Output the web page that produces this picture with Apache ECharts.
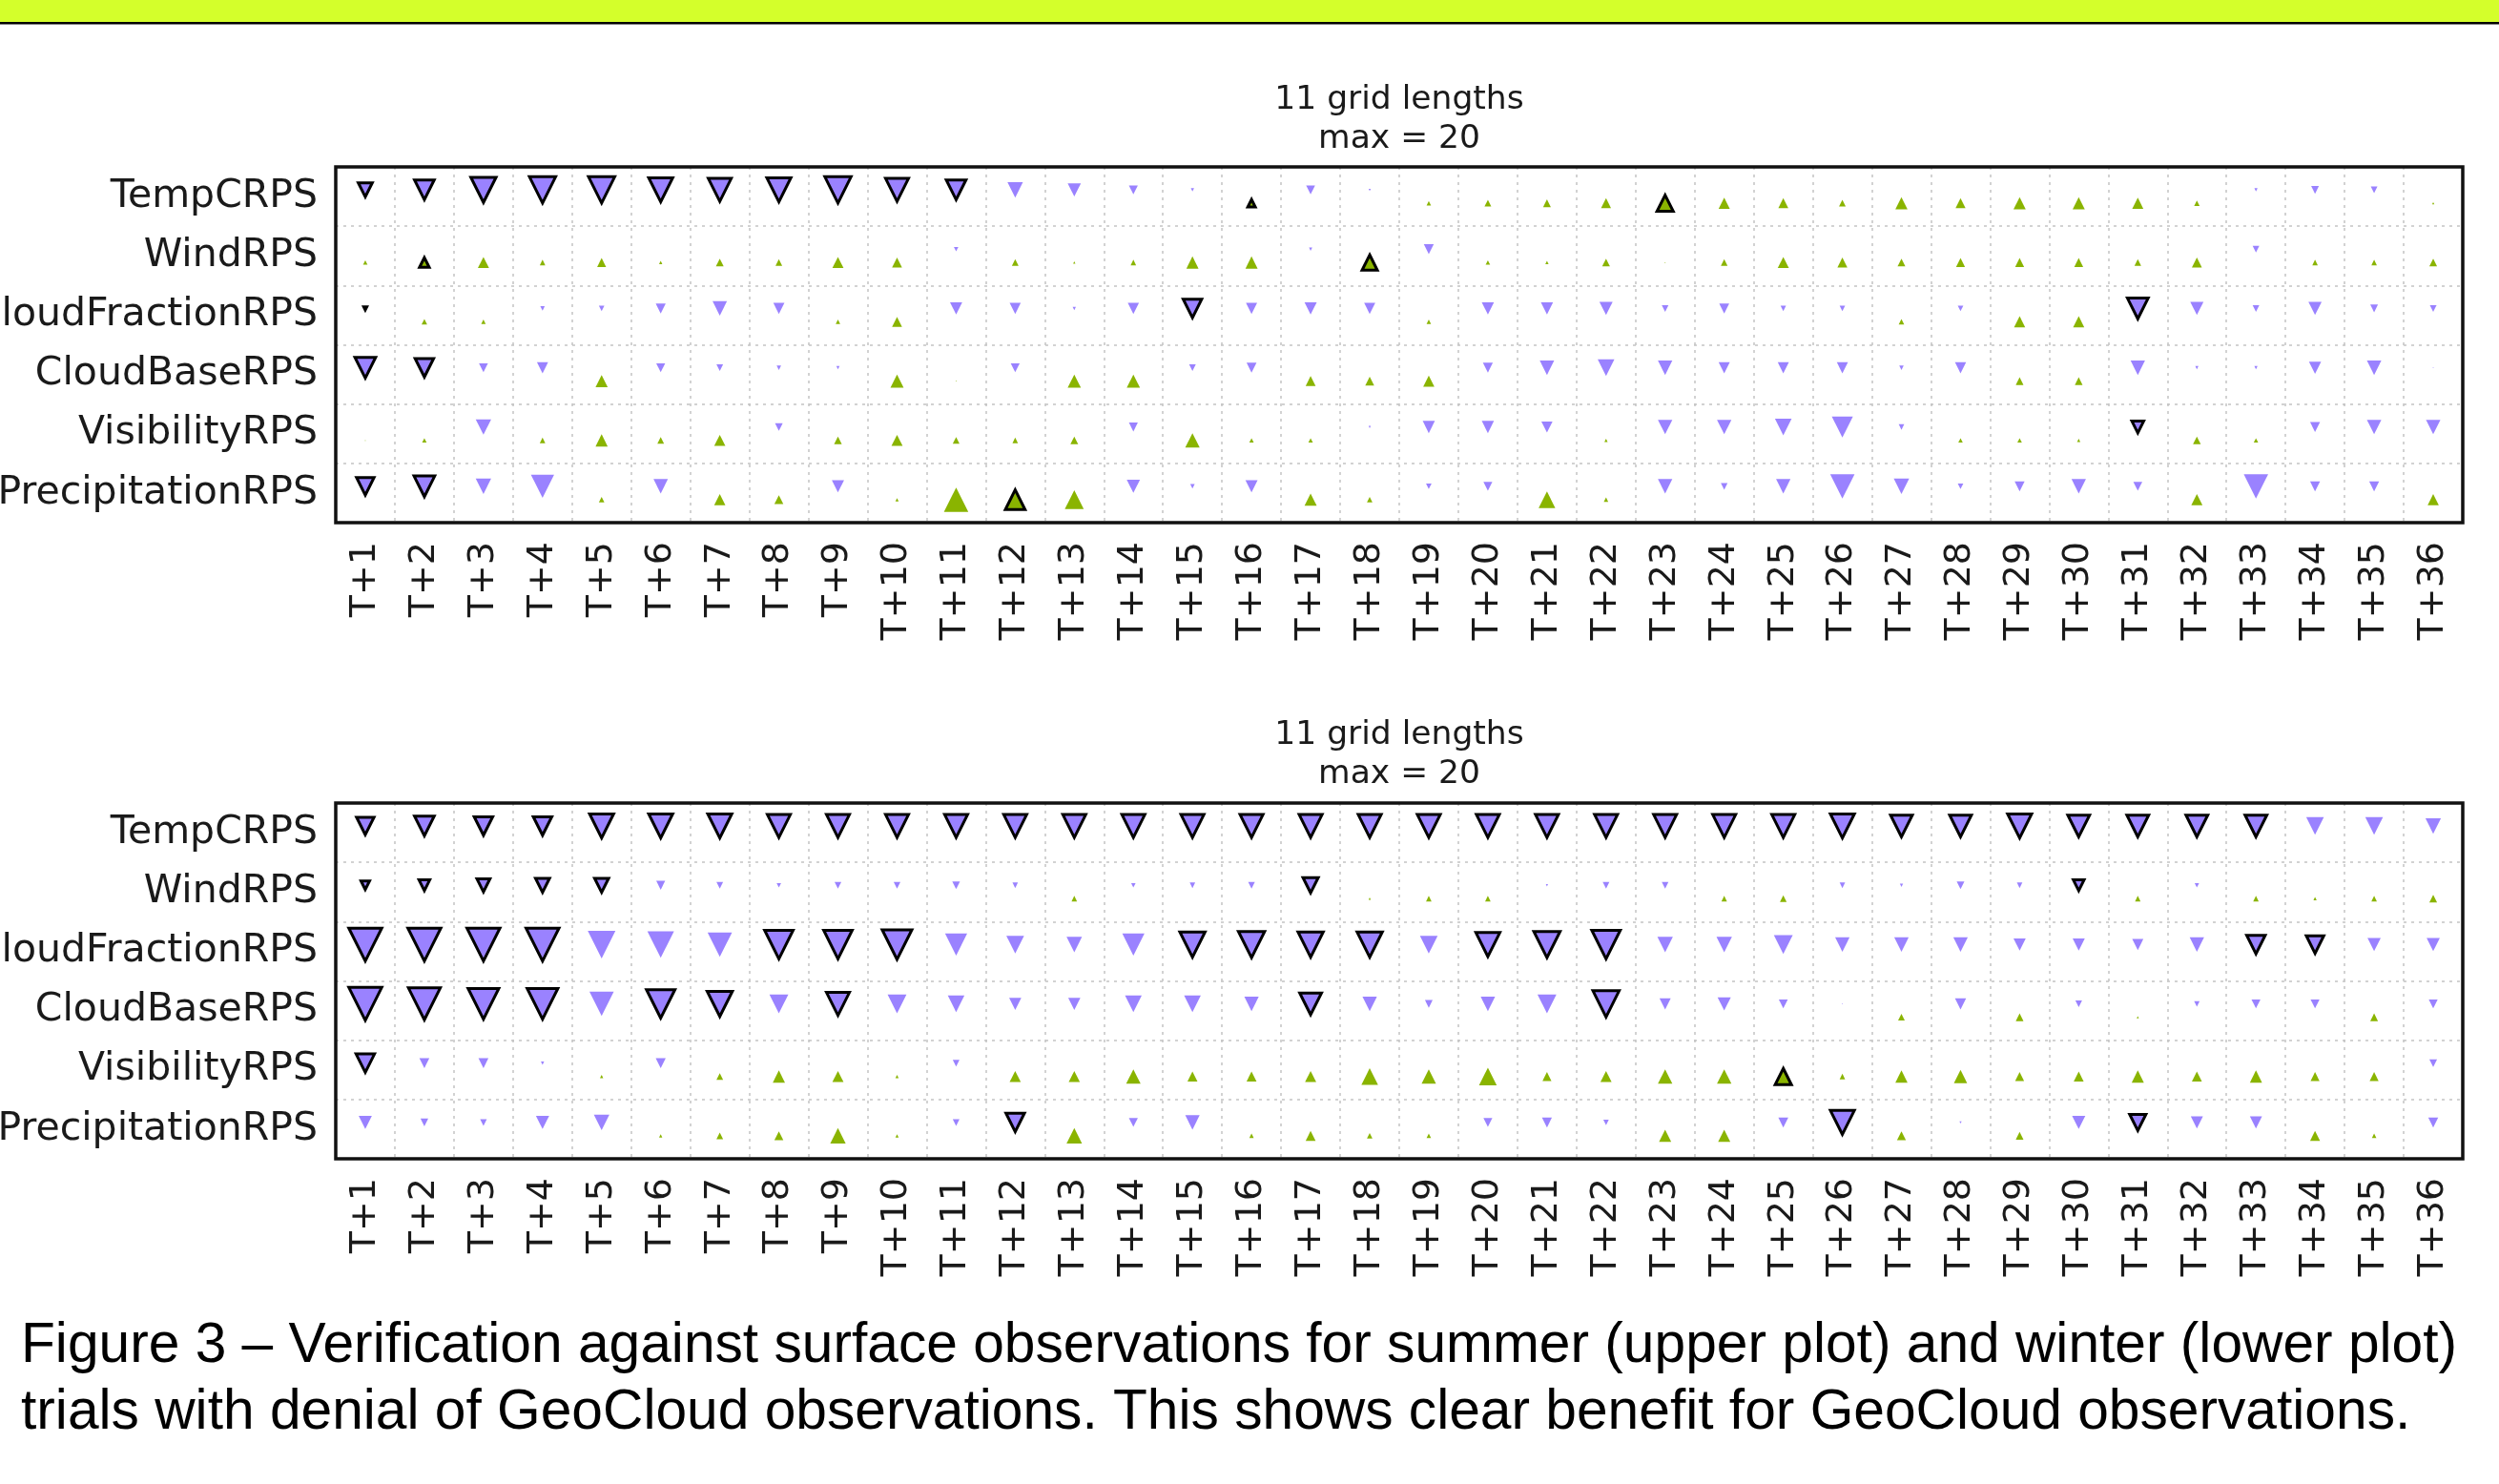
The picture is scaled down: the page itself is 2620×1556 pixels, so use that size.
<!DOCTYPE html>
<html><head><meta charset="utf-8">
<script src="https://cdn.jsdelivr.net/npm/echarts@6/dist/echarts.min.js"></script>
<style>html,body{margin:0;padding:0;background:#fff}#c{width:2620px;height:1556px}</style>
</head><body><div id="c"></div>
<script>
const leadTimes = ['T+1','T+2','T+3','T+4','T+5','T+6','T+7','T+8','T+9','T+10','T+11','T+12','T+13','T+14','T+15','T+16','T+17','T+18','T+19','T+20','T+21','T+22','T+23','T+24','T+25','T+26','T+27','T+28','T+29','T+30','T+31','T+32','T+33','T+34','T+35','T+36'];
const scores = ['TempCRPS','WindRPS','CloudFractionRPS','CloudBaseRPS','VisibilityRPS','PrecipitationRPS'];
const plotTitle = ['11 grid lengths', 'max = 20'];
const caption = ['Figure 3 \u2013 Verification against surface observations for summer (upper plot) and winter (lower plot)',
                 'trials with denial of GeoCloud observations. This shows clear benefit for GeoCloud observations.'];

// Summer (upper plot): % change, negative = purple (down), positive = green (up)
const summerTemp = [-9.0,-12.3,-15.5,-16.1,-16.1,-14.8,-14.2,-14.8,-16.1,-14.2,-12.3,-9.0,-7.7,-5.2,-1.9,5.2,-5.2,-1.3,2.6,3.9,4.5,5.8,10.3,6.5,5.8,3.9,7.1,5.8,7.1,7.1,6.5,3.2,-1.9,-4.5,-3.9,1.3];
const summerWind = [2.6,6.5,6.5,3.2,5.2,1.9,4.5,3.9,6.5,5.8,-2.6,3.9,1.3,3.2,7.1,7.1,-1.9,9.7,-5.8,2.6,1.9,4.5,0.6,3.9,6.5,5.8,4.5,5.2,5.2,5.2,3.9,5.8,-3.9,3.2,3.2,4.5];
const summerCloudFrac = [-2.6,3.2,2.6,-2.6,-3.2,-5.8,-8.4,-6.5,2.6,5.8,-7.1,-6.5,-1.9,-6.5,-11.6,-6.5,-7.1,-6.5,2.6,-7.1,-7.1,-7.7,-3.9,-5.8,-3.2,-3.2,3.2,-3.2,6.5,6.5,-12.9,-7.7,-3.9,-7.7,-4.5,-3.9];
const summerCloudBase = [-12.9,-11.6,-5.2,-6.5,7.1,-5.2,-3.9,-2.6,-1.9,7.7,0.6,-5.2,7.7,7.7,-3.9,-5.8,5.8,5.2,6.5,-5.8,-8.4,-9.7,-8.4,-6.5,-6.5,-6.5,-2.6,-6.5,4.5,4.5,-8.4,-1.9,-1.9,-7.1,-8.4,-0.6];
const summerVis = [0.6,2.6,-9.0,3.2,7.1,3.9,6.5,-4.5,4.5,6.5,3.9,3.2,4.5,-5.2,8.4,2.6,2.6,-1.3,-7.1,-7.1,-6.5,1.9,-8.4,-8.4,-9.7,-12.3,-3.2,2.6,2.6,1.9,-7.7,4.5,2.6,-5.8,-8.4,-8.4];
const summerPrecip = [-11.0,-12.9,-9.0,-13.5,3.2,-8.4,6.5,5.2,-7.1,1.9,14.2,12.3,11.0,-7.7,-2.6,-7.1,7.1,3.2,-3.2,-5.2,9.7,2.6,-8.4,-3.9,-8.4,-14.2,-9.0,-3.2,-5.8,-8.4,-5.2,6.5,-14.2,-5.8,-5.8,6.5];
// lead times (T+n) with statistically significant change (black outline)
const summerTempSig = [1,2,3,4,5,6,7,8,9,10,11,16,23];
const summerWindSig = [2,18];
const summerCloudFracSig = [1,15,31];
const summerCloudBaseSig = [1,2];
const summerVisSig = [31];
const summerPrecipSig = [1,2,12];

// Winter (lower plot)
const winterTemp = [-11.0,-12.3,-11.6,-11.6,-14.8,-14.8,-14.8,-14.2,-14.2,-14.2,-14.2,-14.2,-14.2,-14.2,-14.2,-14.2,-14.2,-14.2,-14.2,-14.2,-14.2,-14.2,-14.2,-14.2,-14.2,-14.8,-13.5,-13.5,-14.8,-13.5,-13.5,-13.5,-13.5,-10.3,-10.3,-9.0];
const winterWind = [-5.8,-7.1,-8.4,-9.0,-9.0,-5.2,-3.9,-2.6,-3.9,-3.9,-4.5,-3.2,3.2,-2.6,-3.2,-3.9,-9.7,1.3,3.2,3.2,-1.3,-3.9,-3.9,3.2,3.9,-3.2,-1.9,-4.5,-3.2,-7.1,3.2,-2.6,3.2,1.9,3.2,4.5];
const winterCloudFrac = [-20.0,-20.0,-20.0,-20.0,-16.1,-15.5,-14.2,-17.4,-17.4,-18.1,-12.9,-10.3,-9.0,-12.9,-15.5,-16.1,-15.5,-15.5,-10.3,-14.8,-16.1,-17.4,-9.0,-9.0,-11.0,-8.4,-8.4,-8.4,-7.1,-7.1,-6.5,-8.4,-11.6,-11.0,-7.7,-7.7];
const winterCloudBase = [-20.0,-19.4,-18.7,-18.7,-14.2,-17.4,-15.5,-11.0,-14.2,-11.0,-9.7,-7.1,-7.1,-9.7,-9.7,-8.4,-13.5,-8.4,-4.5,-8.4,-11.0,-16.1,-6.5,-7.7,-5.2,-0.6,3.9,-6.5,4.5,-3.9,1.3,-3.2,-5.2,-5.2,4.5,-5.2];
const winterVis = [-11.6,-5.8,-5.8,-1.9,1.9,-5.8,3.9,7.1,6.5,1.9,-3.9,6.5,6.5,8.4,5.8,5.8,6.5,9.7,8.4,10.3,5.2,6.5,8.4,8.4,10.3,3.2,7.1,7.7,5.2,5.8,7.1,5.8,7.1,5.2,5.2,-4.5];
const winterPrecip = [-7.7,-4.5,-3.9,-7.7,-9.0,1.9,3.9,5.2,9.0,1.9,-3.9,-11.6,9.0,-5.2,-8.4,2.6,5.8,3.2,2.6,-5.2,-5.8,-3.2,7.1,7.1,-5.8,-14.8,5.2,-1.3,4.5,-7.7,-10.3,-7.1,-7.1,5.8,2.6,-5.8];
const winterTempSig = [1,2,3,4,5,6,7,8,9,10,11,12,13,14,15,16,17,18,19,20,21,22,23,24,25,26,27,28,29,30,31,32,33];
const winterWindSig = [1,2,3,4,5,17,30];
const winterCloudFracSig = [1,2,3,4,8,9,10,15,16,17,18,20,21,22,33,34];
const winterCloudBaseSig = [1,2,3,4,6,7,9,17,22];
const winterVisSig = [1,25];
const winterPrecipSig = [12,26,31];

const PURPLE = '#9a82ff', GREEN = '#8ab400';
const SIZE_PER_UNIT = 1.8, BORDER = 3, OFFSET = 7;
const PLOT_LEFT = 352, PLOT_W = 2230, PLOT_H = 373, TOPS = [175, 842];

const summerRows = [summerTemp, summerWind, summerCloudFrac, summerCloudBase, summerVis, summerPrecip];
const summerSigs = [summerTempSig, summerWindSig, summerCloudFracSig, summerCloudBaseSig, summerVisSig, summerPrecipSig];
const winterRows = [winterTemp, winterWind, winterCloudFrac, winterCloudBase, winterVis, winterPrecip];
const winterSigs = [winterTempSig, winterWindSig, winterCloudFracSig, winterCloudBaseSig, winterVisSig, winterPrecipSig];

function buildSeries(rows, sigs, g) {
  const groups = {pn: [], ps: [], gn: [], gs: []};
  rows.forEach((vals, r) => vals.forEach((v, c) => {
    const sig = sigs[r].includes(c + 1);
    const key = (v < 0 ? 'p' : 'g') + (sig ? 's' : 'n');
    groups[key].push([leadTimes[c], scores[r], v]);
  }));
  const mk = (data, down, sig) => ({
    type: 'scatter', xAxisIndex: g, yAxisIndex: g, data: data, silent: true,
    symbol: 'triangle', symbolRotate: down ? 180 : 0,
    symbolOffset: [0, down ? -OFFSET : OFFSET],
    symbolSize: d => Math.max(1, Math.abs(d[2]) * SIZE_PER_UNIT - (sig ? 1.5 : 0)),
    itemStyle: {color: down ? PURPLE : GREEN, borderColor: '#000', borderWidth: sig ? BORDER : 0, opacity: 1},
    z: sig ? 3 : 2
  });
  return [mk(groups.pn, true, false), mk(groups.ps, true, true), mk(groups.gn, false, false), mk(groups.gs, false, true)];
}

const gridLine = {show: true, interval: 0, lineStyle: {color: '#c4c4c4', type: [3, 5], width: 1.5}};
const xFont = {fontFamily: 'DejaVu Sans', fontSize: 38, color: '#1a1a1a'};
const yFont = {fontFamily: 'DejaVu Sans', fontSize: 41, color: '#1a1a1a'};
function xAx(g) {
  return {type: 'category', gridIndex: g, data: leadTimes, boundaryGap: true,
    axisLine: {show: false}, axisTick: {show: false}, splitLine: gridLine,
    axisLabel: Object.assign({interval: 0, rotate: 90, margin: 20}, xFont)};
}
function yAx(g) {
  return {type: 'category', gridIndex: g, data: scores, inverse: true, boundaryGap: true,
    axisLine: {show: false}, axisTick: {show: false}, splitLine: gridLine,
    axisLabel: Object.assign({interval: 0, margin: 19}, yFont)};
}

function txt(text, x, y, size, family, align, color) {
  return {type: 'text', x: x, y: y, silent: true, z: 50,
    style: {text: text, fill: color, fontSize: size, fontFamily: family, fontWeight: 'normal',
      align: align, textAlign: align, verticalAlign: 'middle', textVerticalAlign: 'middle'}};
}
function frameRect(top) {
  return {type: 'rect', silent: true, z: 100,
    shape: {x: PLOT_LEFT, y: top, width: PLOT_W, height: PLOT_H},
    style: {fill: 'none', stroke: '#111', lineWidth: 3.5}};
}

const chart = echarts.init(document.getElementById('c'), null, {width: 2620, height: 1556, renderer: 'canvas'});
chart.setOption({
  animation: false,
  backgroundColor: '#ffffff',
  grid: TOPS.map(t => ({left: PLOT_LEFT, top: t, width: PLOT_W, height: PLOT_H, show: false,
    containLabel: false, outerBoundsMode: 'none'})),
  xAxis: [xAx(0), xAx(1)],
  yAxis: [yAx(0), yAx(1)],
  series: buildSeries(summerRows, summerSigs, 0).concat(buildSeries(winterRows, winterSigs, 1)),
  graphic: [
    {type: 'rect', shape: {x: 0, y: 0, width: 2620, height: 23}, style: {fill: '#d4ff2b'}, silent: true},
    {type: 'rect', shape: {x: 0, y: 23, width: 2620, height: 2.5}, style: {fill: '#000'}, silent: true},
    frameRect(TOPS[0]), frameRect(TOPS[1]),
    txt(plotTitle[0], 1467, 105, 34.5, 'DejaVu Sans', 'center', '#1a1a1a'),
    txt(plotTitle[1], 1467, 146, 34.5, 'DejaVu Sans', 'center', '#1a1a1a'),
    txt(plotTitle[0], 1467, 771, 34.5, 'DejaVu Sans', 'center', '#1a1a1a'),
    txt(plotTitle[1], 1467, 812, 34.5, 'DejaVu Sans', 'center', '#1a1a1a'),
    txt(caption[0], 22, 1412, 58.7, 'Liberation Sans', 'left', '#000'),
    txt(caption[1], 22, 1482, 58.7, 'Liberation Sans', 'left', '#000')
  ]
});
</script></body></html>
